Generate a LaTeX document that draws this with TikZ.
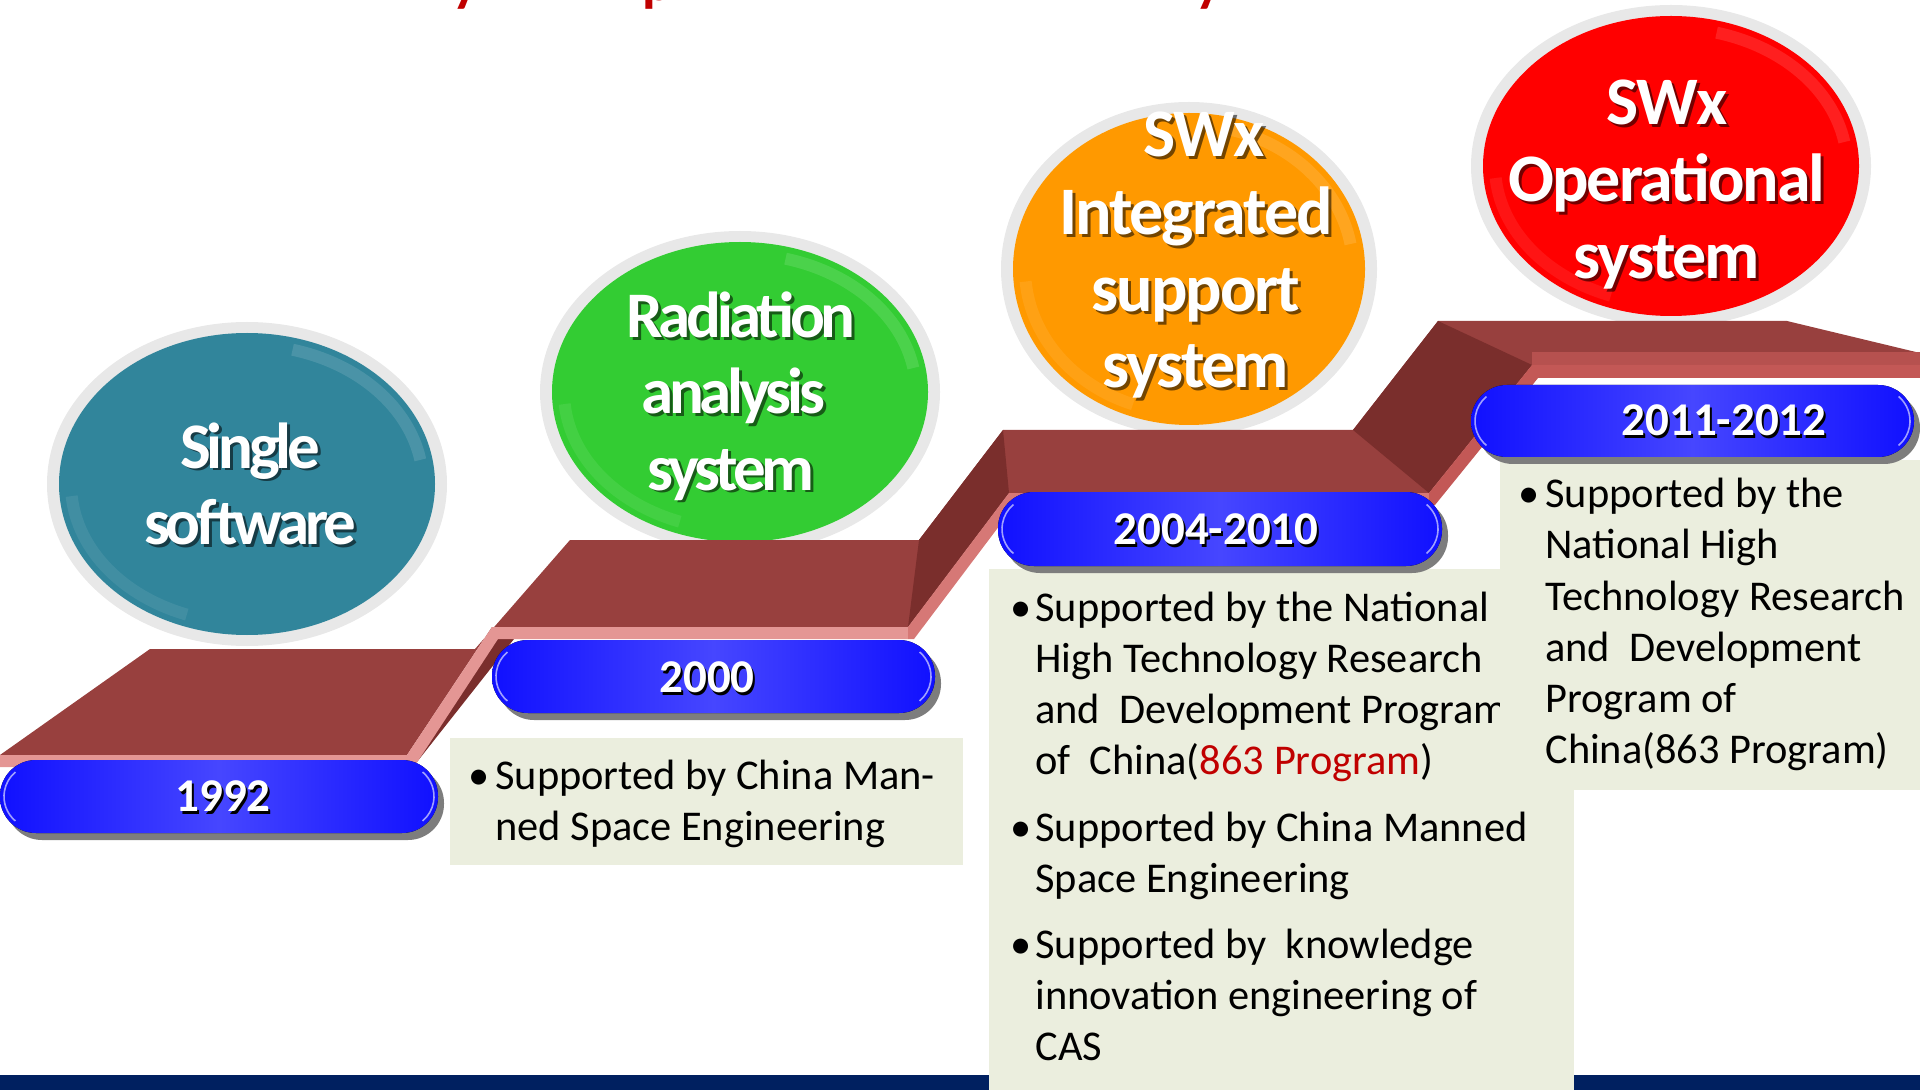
\documentclass[tikz,border=0pt]{standalone}
\usepackage{fontspec}
\setmainfont{Carlito}
\definecolor{tealb}{RGB}{49,133,155}
\definecolor{grnb}{RGB}{51,204,51}
\definecolor{orgb}{RGB}{255,153,0}
\definecolor{redb}{RGB}{255,0,0}
\definecolor{ringgray}{RGB}{232,232,232}
\definecolor{stairtop}{RGB}{152,64,62}
\definecolor{stairdark}{RGB}{122,46,44}
\definecolor{stairpink}{RGB}{228,150,148}
\definecolor{stairmid}{RGB}{214,120,118}
\definecolor{stairred}{RGB}{195,88,86}
\definecolor{boxbg}{RGB}{235,238,222}
\definecolor{navyband}{RGB}{0,32,96}
\definecolor{pillend}{RGB}{16,16,255}
\definecolor{pillmid}{RGB}{70,70,255}
\definecolor{pillshadow}{RGB}{125,125,125}
\definecolor{txtred}{RGB}{192,0,0}
\tikzset{
  ellA/.style={font=\fontsize{32.5}{38}\selectfont\bfseries\addfontfeature{LetterSpace=-6.5}},
  ellB/.style={font=\fontsize{34}{38}\selectfont\bfseries\addfontfeature{LetterSpace=-3}},
  pilltxt/.style={font=\fontsize{23.5}{28}\selectfont\bfseries},
  body/.style={font=\fontsize{21.2}{25.5}\selectfont, anchor=base west, inner sep=0pt, text=black},
  bul/.style={font=\fontsize{21.2}{25.5}\selectfont, anchor=base, inner sep=0pt, text=black},
}
\newcommand\ellip[5]{%
  \fill[ringgray] (#1,#2) ellipse [x radius=#3+12, y radius=#4+11];
  \fill[#5] (#1,#2) ellipse [x radius=#3, y radius=#4];
  \draw[white, opacity=0.12, line width=6pt] (#1,#2) ++(-10:{#3-12} and {#4-12}) arc[start angle=-10, end angle=-75, x radius=#3-12, y radius=#4-12];
  \draw[white, opacity=0.08, line width=6pt] (#1,#2) ++(110:{#3-12} and {#4-12}) arc[start angle=110, end angle=175, x radius=#3-12, y radius=#4-12];
}
\newcommand\wtext[5]{%
  \node[#4, anchor=base, inner sep=0pt, text=black, opacity=0.55] (#1s) at (#2+3,#3+3) {#5};
  \node[#4, anchor=base, inner sep=0pt, text=white] (#1) at (#2,#3) {#5};
}
\newcommand\pillshape[4]{%
  \fill[pillshadow, rounded corners=18pt] (#1+6,#2+7) rectangle (#3+6,#4+7);
  \fill[left color=pillend, right color=pillend, middle color=pillmid, rounded corners=18pt] (#1,#2) rectangle (#3,#4);
  \draw[white, opacity=0.6, line width=0.8pt] ({#1+36},{(#2+#4)/2}) ++(130:32) arc[start angle=130, end angle=230, radius=32];
  \draw[white, opacity=0.6, line width=0.8pt] ({#3-36},{(#2+#4)/2}) ++(-50:32) arc[start angle=-50, end angle=50, radius=32];
}
\begin{document}
\begin{tikzpicture}[x=0.5pt,y=-0.5pt]
\useasboundingbox (0,0) rectangle (1920,1090);
\begin{scope}
\clip (0,0) rectangle (1920,1090);

% title fragments (cut off at the top)
\node[anchor=base west, inner sep=0pt, text=txtred, font=\fontsize{28}{28}\selectfont\bfseries] (tf1) at (452,1) {y};
\node[anchor=base west, inner sep=0pt, text=txtred, font=\fontsize{28}{28}\selectfont\bfseries] (tf2) at (642,1) {p};
\node[anchor=base west, inner sep=0pt, text=txtred, font=\fontsize{28}{28}\selectfont\bfseries] (tf3) at (1195,1) {y};

% ellipses
\ellip{247}{484}{188}{151}{tealb}
\ellip{740}{392}{188}{150}{grnb}
\ellip{1189}{269}{176}{156}{orgb}
\ellip{1671}{166}{188}{150}{redb}

\wtext{e1a}{250}{468}{ellA}{Single}
\wtext{e1b}{250}{544}{ellA}{software}
\wtext{e2a}{741}{338}{ellA}{Radiation}
\wtext{e2b}{733}{414}{ellA}{analysis}
\wtext{e2c}{731}{490}{ellA}{system}
\wtext{e3a}{1204}{157}{ellB}{SWx}
\wtext{e3b}{1196}{235}{ellB}{Integrated}
\wtext{e3c}{1196}{312}{ellB}{support}
\wtext{e3d}{1196}{388}{ellB}{system}
\wtext{e4a}{1667}{125}{ellB}{SWx}
\wtext{e4b}{1667}{202}{ellB}{Operational}
\wtext{e4c}{1667}{279}{ellB}{system}

% staircase
\fill[stairtop] (0,755) -- (407,755) -- (492,627) -- (908,627) -- (1009,493) -- (1429,493) -- (1532,365) -- (1920,365) -- (1920,353) -- (1787,321) -- (1438,321) -- (1353,430) -- (1003,430) -- (919,540) -- (570,540) -- (475,649) -- (150,649) -- cycle;
\fill[stairred!70!stairtop] (1532,352) -- (1920,352) -- (1920,365) -- (1532,365) -- cycle;
\fill[stairdark] (919,540) -- (1003,430) -- (1009,493) -- (908,627) -- cycle;
\fill[stairdark] (1353,430) -- (1438,321) -- (1532,365) -- (1429,493) -- cycle;
\fill[stairdark] (492,639) -- (514,639) -- (413,767) -- cycle;
\fill[stairpink] (0,755) -- (407,755) -- (492,627) -- (908,627) -- (908,639) -- (498,639) -- (414,767) -- (0,767) -- cycle;
\fill[stairmid] (908,627) -- (1009,493) -- (1429,493) -- (1429,505) -- (1015,505) -- (914,639) -- (908,639) -- cycle;
\fill[stairred] (1429,493) -- (1532,365) -- (1920,365) -- (1920,378) -- (1538,378) -- (1435,505) -- (1429,505) -- cycle;

% bottom band
\fill[navyband] (0,1075) rectangle (1920,1090);

% text box A
\fill[boxbg] (450,738) rectangle (963,865);
\node[bul] (ab1) at (479,789) {•};
\node[body] (a1) at (495,789) {Supported by China Man-};
\node[body] (a2) at (495,840) {ned Space Engineering};

% text box B
\fill[boxbg] (989,569) rectangle (1574,1090);
\node[bul] (bb1) at (1021,621) {•};
\node[body] (b1) at (1035,621) {Supported by the National};
\node[body] (b2) at (1035,672) {High Technology Research};
\node[body] (b3) at (1035,723) {and\ \ Development Program};
\node[body] (b4) at (1035,774) {of\ \ China(\textcolor{txtred}{863 Program})};
\node[bul] (bb2) at (1021,841) {•};
\node[body] (b5) at (1035,841) {Supported by China Manned};
\node[body] (b6) at (1035,892) {Space Engineering};
\node[bul] (bb3) at (1021,958) {•};
\node[body] (b7) at (1035,958) {Supported by\ \ knowledge};
\node[body] (b8) at (1035,1009) {innovation engineering of};
\node[body] (b9) at (1035,1060) {CAS};

% text box C
\fill[boxbg] (1500,460) rectangle (1920,790);
\node[bul] (cb1) at (1529,508) {•};
\node[body] (c1) at (1545,508) {Supported by the};
\node[body] (c2) at (1545,558) {National High};
\node[body] (c3) at (1545,610) {Technology Research};
\node[body] (c4) at (1545,661) {and\ \ Development};
\node[body] (c5) at (1545,712) {Program of};
\node[body] (c6) at (1545,763) {China(863 Program)};

% pills
\pillshape{0}{760}{438}{833}
\pillshape{492}{640}{935}{713}
\pillshape{998}{492}{1442}{566}
\pillshape{1471}{385}{1914}{457}
\node[pilltxt, anchor=base, inner sep=0pt, text=black] (p1s) at (225,814) {1992};
\node[pilltxt, anchor=base, inner sep=0pt, text=white] (p1) at (223,811) {1992};
\node[pilltxt, anchor=base, inner sep=0pt, text=black] (p2s) at (709,695) {2000};
\node[pilltxt, anchor=base, inner sep=0pt, text=white] (p2) at (707,692) {2000};
\node[pilltxt, anchor=base, inner sep=0pt, text=black] (p3s) at (1218,547) {2004-2010};
\node[pilltxt, anchor=base, inner sep=0pt, text=white] (p3) at (1216,544) {2004-2010};
\node[pilltxt, anchor=base, inner sep=0pt, text=black] (p4s) at (1726,439) {2011-2012};
\node[pilltxt, anchor=base, inner sep=0pt, text=white] (p4) at (1724,436) {2011-2012};
\end{scope}
\end{tikzpicture}
\end{document}
